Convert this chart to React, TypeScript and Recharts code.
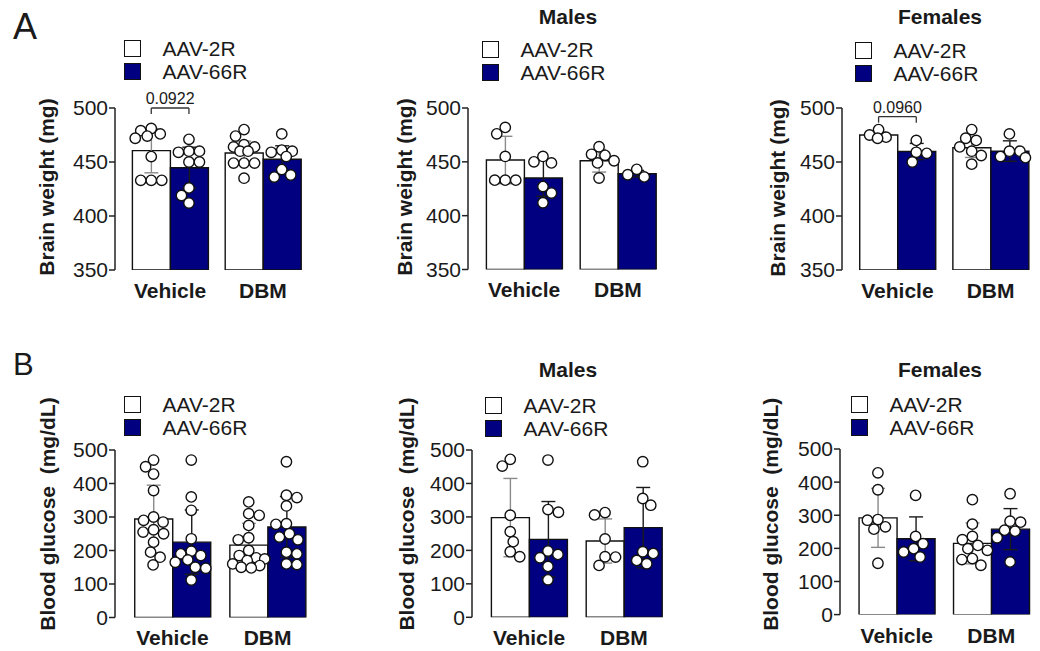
import React from 'react';
import {
  ComposedChart,
  Bar,
  ErrorBar,
  Scatter,
  XAxis,
  YAxis,
  ReferenceLine,
  Legend,
  Customized,
} from 'recharts';

// ---------------- data ----------------
const categories = ['Vehicle', 'DBM'];
const seriesNames = ['AAV-2R', 'AAV-66R'];
const brainTicks = [350, 400, 450, 500];
const glucoseTicks = [0, 100, 200, 300, 400, 500];

// A – brain weight, all animals
const brainAllMean2R = [460.5, 458.3];
const brainAllSd2R = [20.5, 11];
const brainAllMean66R = [444.7, 452.5];
const brainAllSd66R = [19, 12.5];
const brainAllPts2R = [
  [481, 479, 476, 474, 472, 455, 433, 433, 433],
  [480, 474, 466, 464, 464, 460, 460, 449, 449, 449, 435],
];
const brainAllPts66R = [
  [471, 460, 460, 459, 450, 450, 426, 419, 412],
  [476, 461, 460, 459, 455, 443, 438, 436],
];

// A – brain weight, males
const brainMaleMean2R = [451.7, 451];
const brainMaleSd2R = [22, 10.5];
const brainMaleMean66R = [435, 439];
const brainMaleSd66R = [17, 3];
const brainMalePts2R = [
  [482, 476, 455, 433, 433, 433],
  [464, 457, 456, 451, 449, 435],
];
const brainMalePts66R = [
  [455, 450, 449, 427, 421, 412],
  [443, 438, 436],
];

// A – brain weight, females
const brainFemaleMean2R = [475, 463.2];
const brainFemaleSd2R = [3, 9];
const brainFemaleMean66R = [459.7, 460.1];
const brainFemaleSd66R = [7.5, 9.5];
const brainFemalePts2R = [
  [480, 475, 473, 472],
  [480, 472, 470, 464, 460, 456, 448],
];
const brainFemalePts66R = [
  [470, 459, 458, 450],
  [476, 460, 460, 455, 454],
];

// B – blood glucose, all animals
const gluAllMean2R = [294, 216];
const gluAllSd2R = [101, 65];
const gluAllMean66R = [225, 270];
const gluAllSd66R = [96, 91];
const gluAllPts2R = [
  [470, 450, 428, 379, 300, 290, 285, 262, 255, 250, 225, 195, 180, 157],
  [345, 310, 305, 275, 238, 232, 200, 185, 178, 175, 170, 160, 155, 150, 148],
];
const gluAllPts66R = [
  [470, 360, 320, 235, 198, 190, 185, 172, 165, 150, 147, 112],
  [465, 365, 358, 333, 280, 278, 250, 240, 232, 195, 190, 160, 158],
];

// B – blood glucose, males
const gluMaleMean2R = [298, 228];
const gluMaleSd2R = [117, 66];
const gluMaleMean66R = [233, 268];
const gluMaleSd66R = [113, 120];
const gluMalePts2R = [
  [472, 452, 305, 256, 226, 196, 181],
  [313, 306, 234, 181, 180, 155],
];
const gluMalePts66R = [
  [470, 322, 314, 198, 188, 178, 152, 112],
  [465, 355, 335, 196, 191, 170, 160],
];

// B – blood glucose, females
const gluFemaleMean2R = [292, 215];
const gluFemaleSd2R = [89, 62];
const gluFemaleMean66R = [229, 258];
const gluFemaleSd66R = [66, 62];
const gluFemalePts2R = [
  [428, 377, 287, 285, 265, 258, 155],
  [347, 273, 236, 226, 209, 199, 194, 169, 166, 149],
];
const gluFemalePts66R = [
  [360, 236, 214, 199, 189, 174],
  [365, 282, 279, 255, 252, 232, 159],
];

// ---------------- styling / layout ----------------
const FONT = '"Liberation Sans", Arial, Helvetica, sans-serif';
const INK = '#1a1a1a';
const NAVY = '#000080';
const BAR_W = 37.7;
const Y_AXIS_W = 115;
const M_TOP = 80;
const M_RIGHT = 8;
const CAT_AXIS_H = 40;

type Series = {
  mean2R: number[];
  sd2R: number[];
  mean66R: number[];
  sd66R: number[];
  pts2R: number[][];
  pts66R: number[][];
};

type PanelCfg = {
  id: string;
  series: Series;
  yLabel: string;
  domain: [number, number];
  ticks: number[];
  plot: { x: number; y: number; w: number; h: number };
  ylab: { x: number; y: number };
  legend: { x: number; y: number };
  title?: { text: string; x: number; y: number };
  bracket?: { cat: number; value: number; text: string };
};

const panels: PanelCfg[] = [
  {
    id: 'A1',
    series: {
      mean2R: brainAllMean2R, sd2R: brainAllSd2R, mean66R: brainAllMean66R, sd66R: brainAllSd66R,
      pts2R: brainAllPts2R, pts66R: brainAllPts66R,
    },
    yLabel: 'Brain weight (mg)',
    domain: [350, 500],
    ticks: brainTicks,
    plot: { x: 115, y: 108, w: 203, h: 162 },
    ylab: { x: 46, y: 187 },
    legend: { x: 124, y: 36.5 },
    bracket: { cat: 0, value: 500, text: '0.0922' },
  },
  {
    id: 'A2',
    series: {
      mean2R: brainMaleMean2R, sd2R: brainMaleSd2R, mean66R: brainMaleMean66R, sd66R: brainMaleSd66R,
      pts2R: brainMalePts2R, pts66R: brainMalePts66R,
    },
    yLabel: 'Brain weight (mg)',
    domain: [350, 500],
    ticks: brainTicks,
    plot: { x: 468, y: 108, w: 206, h: 161.5 },
    ylab: { x: 404, y: 187 },
    legend: { x: 482, y: 38.2 },
    title: { text: 'Males', x: 568, y: 23.3 },
  },
  {
    id: 'A3',
    series: {
      mean2R: brainFemaleMean2R, sd2R: brainFemaleSd2R, mean66R: brainFemaleMean66R, sd66R: brainFemaleSd66R,
      pts2R: brainFemalePts2R, pts66R: brainFemalePts66R,
    },
    yLabel: 'Brain weight (mg)',
    domain: [350, 500],
    ticks: brainTicks,
    plot: { x: 842, y: 108, w: 204, h: 162 },
    ylab: { x: 777, y: 188 },
    legend: { x: 855, y: 39.2 },
    title: { text: 'Females', x: 940, y: 24 },
    bracket: { cat: 0, value: 492, text: '0.0960' },
  },
  {
    id: 'B1',
    series: {
      mean2R: gluAllMean2R, sd2R: gluAllSd2R, mean66R: gluAllMean66R, sd66R: gluAllSd66R,
      pts2R: gluAllPts2R, pts66R: gluAllPts66R,
    },
    yLabel: 'Blood glucose  (mg/dL)',
    domain: [0, 500],
    ticks: glucoseTicks,
    plot: { x: 115, y: 450, w: 210, h: 167.5 },
    ylab: { x: 47, y: 514 },
    legend: { x: 124, y: 393.2 },
  },
  {
    id: 'B2',
    series: {
      mean2R: gluMaleMean2R, sd2R: gluMaleSd2R, mean66R: gluMaleMean66R, sd66R: gluMaleSd66R,
      pts2R: gluMalePts2R, pts66R: gluMalePts66R,
    },
    yLabel: 'Blood glucose  (mg/dL)',
    domain: [0, 500],
    ticks: glucoseTicks,
    plot: { x: 472, y: 450, w: 209, h: 167.3 },
    ylab: { x: 407, y: 514 },
    legend: { x: 485, y: 394.2 },
    title: { text: 'Males', x: 568, y: 376.7 },
  },
  {
    id: 'B3',
    series: {
      mean2R: gluFemaleMean2R, sd2R: gluFemaleSd2R, mean66R: gluFemaleMean66R, sd66R: gluFemaleSd66R,
      pts2R: gluFemalePts2R, pts66R: gluFemalePts66R,
    },
    yLabel: 'Blood glucose  (mg/dL)',
    domain: [0, 500],
    ticks: glucoseTicks,
    plot: { x: 840, y: 448.7, w: 208, h: 165.6 },
    ylab: { x: 771, y: 514 },
    legend: { x: 851, y: 393.2 },
    title: { text: 'Females', x: 940, y: 377 },
  },
];

// beeswarm offsets (pixels) so that dots do not overlap
function swarm(values: number[], pxPerUnit: number): { v: number; dx: number }[] {
  const D = 10.4;
  const sorted = [...values].sort((a, b) => b - a);
  const placed: { dx: number; py: number }[] = [];
  const out: { v: number; dx: number }[] = [];
  sorted.forEach((v, i) => {
    const py = v * pxPerUnit;
    const sign = i % 2 === 0 ? 1 : -1;
    let chosen: number | null = null;
    let bestDx = 0;
    let bestScore = -Infinity;
    for (let s = 0; s <= 16 && chosen === null; s += 0.5) {
      const cands = s === 0 ? [0] : [sign * s, -sign * s];
      for (const dx of cands) {
        const minD = placed.reduce((m, p) => Math.min(m, Math.hypot(p.dx - dx, p.py - py)), Infinity);
        if (minD >= D) {
          chosen = dx;
          break;
        }
        if (minD > bestScore) {
          bestScore = minD;
          bestDx = dx;
        }
      }
    }
    const dx = chosen === null ? bestDx : chosen;
    placed.push({ dx, py });
    out.push({ v, dx });
  });
  return out;
}

const Dot = (props: any) => {
  const { cx, cy } = props;
  if (cx == null || cy == null) return null;
  return <circle cx={cx} cy={cy} r={5.2} fill="#ffffff" stroke="#111" strokeWidth={1.4} />;
};

const LegendBox = () => (
  <div style={{ fontFamily: FONT }}>
    {seriesNames.map((name, i) => (
      <div key={name} style={{ display: 'flex', alignItems: 'center', height: 23 }}>
        <div
          style={{
            width: 15,
            height: 15,
            border: '1.6px solid #111',
            background: i === 0 ? '#ffffff' : NAVY,
            marginRight: 21.5,
          }}
        />
        <span style={{ fontSize: 21, lineHeight: '23px', color: INK, whiteSpace: 'nowrap' }}>{name}</span>
      </div>
    ))}
  </div>
);

function Panel({ cfg }: { cfg: PanelCfg }) {
  const { plot, series, domain } = cfg;
  const chartLeft = plot.x - Y_AXIS_W;
  const chartTop = plot.y - M_TOP;
  const width = Y_AXIS_W + plot.w + M_RIGHT;
  const height = M_TOP + plot.h + CAT_AXIS_H;

  const gap = (plot.w - 4 * BAR_W) / 3;
  const unit = plot.w / 2; // px per numeric x unit (each category spans one unit)
  const band = (plot.w - gap) / 2;
  const barCenter = (ci: number, si: number) =>
    (gap / 2 + (ci + 0.5) * band + (si === 0 ? -BAR_W / 2 : BAR_W / 2)) / unit;
  const yPx = plot.h / (domain[1] - domain[0]);

  const rows = categories.map((c, i) => ({
    group: c,
    m2: series.mean2R[i],
    s2: series.sd2R[i],
    m66: series.mean66R[i],
    s66: series.sd66R[i],
  }));

  const points = (si: number) => {
    const src = si === 0 ? series.pts2R : series.pts66R;
    return categories.flatMap((c, ci) =>
      swarm(src[ci], yPx).map(({ v, dx }) => ({ x: barCenter(ci, si) + dx / unit, y: v }))
    );
  };

  const axisStroke = { stroke: '#222', strokeWidth: 1.5 };
  const lx = cfg.ylab.x - chartLeft;
  const ly = cfg.ylab.y - chartTop;
  const tickLen = 6 / yPx;

  return (
    <div style={{ position: 'absolute', left: chartLeft, top: chartTop }}>
      <ComposedChart
        width={width}
        height={height}
        data={rows}
        margin={{ top: M_TOP, right: M_RIGHT, bottom: 0, left: 0 }}
        barGap={0}
        barCategoryGap={gap / 2}
      >
        <XAxis
          xAxisId={0}
          type="number"
          dataKey="x"
          domain={[0, 2]}
          ticks={[0, 1, 2]}
          allowDataOverflow
          height={0}
          tickSize={6}
          tickFormatter={() => ''}
          axisLine={axisStroke}
          tickLine={axisStroke}
        />
        <XAxis
          xAxisId="cat"
          type="category"
          dataKey="group"
          padding={{ left: gap / 2, right: gap / 2 }}
          axisLine={false}
          tickLine={false}
          tickSize={0}
          tickMargin={13}
          height={CAT_AXIS_H}
          interval={0}
          tick={{ fontSize: 21, fontWeight: 700, fill: INK }}
        />
        <YAxis
          type="number"
          domain={domain}
          ticks={cfg.ticks}
          allowDataOverflow
          interval={0}
          width={Y_AXIS_W}
          tickSize={6}
          tickMargin={1}
          axisLine={axisStroke}
          tickLine={axisStroke}
          tick={{ fontSize: 21, fill: INK }}
        />
        <Bar xAxisId="cat" dataKey="m2" name={seriesNames[0]} fill="#ffffff" stroke="#111" strokeWidth={1.4} isAnimationActive={false}>
          <ErrorBar dataKey="s2" width={7} stroke="#8a8a8a" strokeWidth={1.4} direction="y" />
        </Bar>
        <Bar xAxisId="cat" dataKey="m66" name={seriesNames[1]} fill={NAVY} stroke="#111" strokeWidth={1.4} isAnimationActive={false}>
          <ErrorBar dataKey="s66" width={7} stroke="#1a1a1a" strokeWidth={1.4} direction="y" />
        </Bar>
        <Scatter xAxisId={0} data={points(0)} dataKey="y" shape={Dot} isAnimationActive={false} />
        <Scatter xAxisId={0} data={points(1)} dataKey="y" shape={Dot} isAnimationActive={false} />
        {cfg.bracket && (
          <ReferenceLine
            xAxisId={0}
            ifOverflow="visible"
            segment={[
              { x: barCenter(cfg.bracket.cat, 0), y: cfg.bracket.value },
              { x: barCenter(cfg.bracket.cat, 1), y: cfg.bracket.value },
            ]}
            stroke="#333"
            strokeWidth={1.3}
            label={{ value: cfg.bracket.text, position: 'top', offset: 4, fontSize: 16, fill: INK }}
          />
        )}
        {cfg.bracket && (
          <ReferenceLine
            xAxisId={0}
            ifOverflow="visible"
            segment={[
              { x: barCenter(cfg.bracket.cat, 0), y: cfg.bracket.value },
              { x: barCenter(cfg.bracket.cat, 0), y: cfg.bracket.value - tickLen },
            ]}
            stroke="#333"
            strokeWidth={1.3}
          />
        )}
        {cfg.bracket && (
          <ReferenceLine
            xAxisId={0}
            ifOverflow="visible"
            segment={[
              { x: barCenter(cfg.bracket.cat, 1), y: cfg.bracket.value },
              { x: barCenter(cfg.bracket.cat, 1), y: cfg.bracket.value - tickLen },
            ]}
            stroke="#333"
            strokeWidth={1.3}
          />
        )}
        <Legend
          layout="vertical"
          align="center"
          verticalAlign="middle"
          wrapperStyle={{ left: cfg.legend.x - chartLeft, top: cfg.legend.y - chartTop }}
          content={() => <LegendBox />}
        />
        <Customized
          component={() => (
            <text
              x={lx}
              y={ly}
              transform={`rotate(-90 ${lx} ${ly})`}
              textAnchor="middle"
              dominantBaseline="central"
              fontSize={21}
              fontWeight={700}
              fill={INK}
              style={{ whiteSpace: 'pre' }}
            >
              {cfg.yLabel}
            </text>
          )}
        />
      </ComposedChart>
    </div>
  );
}

export default function App() {
  return (
    <div
      style={{
        position: 'fixed',
        left: 0,
        top: 0,
        width: 1040,
        height: 651,
        overflow: 'hidden',
        background: '#ffffff',
        fontFamily: FONT,
        color: INK,
      }}
    >
      <div style={{ position: 'absolute', left: 13, top: 8.8, fontSize: 36, lineHeight: '36px' }}>A</div>
      <div style={{ position: 'absolute', left: 13, top: 348.8, fontSize: 31, lineHeight: '31px' }}>B</div>
      {panels.map((p) => (
        <Panel key={p.id} cfg={p} />
      ))}
      {panels
        .filter((p) => p.title)
        .map((p) => (
          <div
            key={p.id + '-title'}
            style={{
              position: 'absolute',
              left: p.title!.x - 100,
              width: 200,
              top: p.title!.y - 17.8,
              textAlign: 'center',
              fontSize: 21,
              lineHeight: '21px',
              fontWeight: 700,
              zIndex: 2,
            }}
          >
            {p.title!.text}
          </div>
        ))}
    </div>
  );
}
